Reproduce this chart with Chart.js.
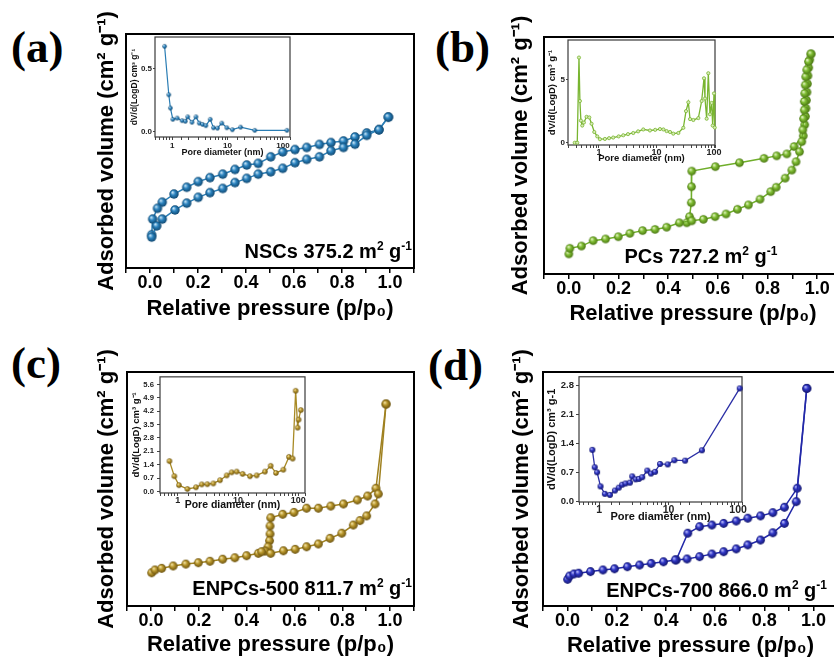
<!DOCTYPE html>
<html>
<head>
<meta charset="utf-8">
<script src="https://cdn.jsdelivr.net/npm/chart.js@4.4.1/dist/chart.umd.min.js"></script>
<style>
  html, body { margin: 0; padding: 0; width: 834px; height: 659px; overflow: hidden; background: #fff; }
  canvas { position: absolute; }
  .tag { position: absolute; font: bold 45px "Liberation Serif", "Times New Roman", serif; line-height: 45px; color: #000; white-space: nowrap; }
</style>
</head>
<body>
<div class="tag" style="left:11px;top:25px">(a)</div>
<div class="tag" style="left:435px;top:25px">(b)</div>
<div class="tag" style="left:11px;top:341px">(c)</div>
<div class="tag" style="left:428px;top:343px">(d)</div>
<script>
// ---------- N2 isotherms (relative pressure p/p0, adsorbed volume, relative units) ----------
// NSCs
const nscAdsP = [0.007,0.028,0.051,0.104,0.153,0.201,0.250,0.303,0.354,0.403,0.451,0.503,0.553,0.604,0.653,0.706,0.754,0.806,0.854,0.903,0.954,0.993];
const nscAdsV = [13.2,18.0,20.9,24.8,27.7,30.2,32.2,34.0,36.5,38.3,40.1,41.1,42.6,45.0,46.4,47.5,50.1,51.5,52.9,56.7,59.1,64.5];
const nscDesP = [0.993,0.954,0.903,0.854,0.806,0.754,0.706,0.653,0.604,0.553,0.503,0.451,0.403,0.354,0.303,0.250,0.201,0.153,0.100,0.051,0.031,0.011,0.007];
const nscDesV = [64.5,59.1,57.7,56.0,54.3,53.6,52.8,51.5,50.6,49.6,47.5,44.7,44.0,42.1,40.1,38.6,36.9,34.5,31.6,28.1,25.5,20.9,14.2];
// PCs
const pcAdsP = [0.000,0.004,0.051,0.098,0.148,0.199,0.246,0.297,0.347,0.394,0.445,0.495,0.542,0.589,0.633,0.679,0.723,0.770,0.813,0.835,0.871,0.898,0.915,0.929,0.938,0.942,0.945,0.948,0.948,0.950,0.952,0.954,0.958,0.965,0.975];
const pcAdsV = [7.8,10.1,11.0,13.2,13.9,14.8,16.2,17.3,17.8,18.7,20.5,21.3,21.9,23.0,24.1,26.0,27.8,30.1,33.2,35.0,38.7,42.0,45.4,49.5,53.6,58.4,63.0,66.5,70.0,73.3,76.7,80.1,82.9,86.3,89.4];
const pcDesP = [0.975,0.970,0.966,0.963,0.961,0.959,0.957,0.955,0.953,0.950,0.944,0.907,0.878,0.837,0.786,0.687,0.590,0.495,0.494,0.493,0.486,0.475];
const pcDesV = [89.4,87.0,83.8,80.5,77.2,73.8,70.5,67.2,63.9,60.5,56.0,51.6,48.6,47.8,46.8,45.0,43.4,41.6,35.2,28.7,23.0,20.5];
// ENPCs-500
const e500AdsP = [0.003,0.017,0.045,0.093,0.146,0.198,0.247,0.300,0.351,0.400,0.449,0.463,0.501,0.554,0.603,0.651,0.700,0.749,0.798,0.846,0.874,0.902,0.937,0.951,0.983];
const e500AdsV = [14.2,15.4,16.1,17.1,17.9,18.5,19.1,20.0,20.6,21.5,22.5,23.2,22.5,23.6,24.2,25.3,26.5,28.9,31.1,34.6,36.5,38.5,43.6,47.9,86.3];
const e500DesP = [0.983,0.941,0.906,0.863,0.805,0.752,0.700,0.651,0.598,0.551,0.501,0.498,0.498,0.496,0.490,0.478];
const e500DesV = [86.3,50.3,47.0,45.3,43.6,42.7,41.8,41.8,40.0,39.2,37.7,34.2,30.8,27.9,25.3,23.5];
// ENPCs-700
const e700AdsP = [0.000,0.008,0.026,0.045,0.093,0.144,0.191,0.243,0.293,0.340,0.390,0.438,0.486,0.537,0.587,0.635,0.686,0.733,0.785,0.835,0.882,0.930,0.973];
const e700AdsV = [11.4,12.8,13.7,14.0,14.7,15.4,15.9,16.8,17.5,18.2,18.9,19.7,20.1,21.1,22.2,23.2,24.4,26.1,28.2,31.3,35.3,44.6,93.0];
const e700DesP = [0.973,0.934,0.882,0.835,0.785,0.733,0.686,0.635,0.587,0.537,0.489,0.442];
const e700DesV = [93.0,50.3,42.2,39.9,38.5,37.5,36.3,35.3,34.6,33.9,31.1,19.7];

// ---------- pore size distributions (pore diameter nm, dV/d(logD)) ----------
const nscPoreD = [0.73,0.87,0.93,1.03,1.23,1.51,1.73,1.91,2.28,2.69,3.09,3.54,4.06,4.86,5.57,6.58,7.86,9.70,12.2,17.2,31,118];
const nscPoreV = [0.68,0.295,0.19,0.10,0.11,0.09,0.085,0.12,0.077,0.12,0.07,0.06,0.05,0.10,0.033,0.03,0.07,0.033,0.018,0.038,0.013,0.013];
const pcPoreD = [0.38,0.42,0.45,0.467,0.486,0.513,0.548,0.61,0.68,0.745,0.83,0.935,1.04,1.27,1.5,1.77,2.2,2.65,3.2,3.95,4.8,5.9,7.7,9.5,11.5,13.2,15.0,17.2,19.6,24,29.3,32.6,35.8,38.3,43.7,53.4,61,67,69.7,74.5,79.6,85,91,94.8,100,103];
const pcPoreV = [0,0,6.74,3.3,1.75,1.36,1.6,2.05,2.0,1.5,0.85,0.5,0.28,0.3,0.36,0.41,0.5,0.59,0.68,0.77,0.9,1.05,0.97,1.02,1.08,1.05,0.92,0.85,0.72,0.77,1.18,2.5,3.2,1.87,1.8,1.95,3.3,5.1,3.5,1.9,5.5,2.25,3.15,1.36,3.9,1.2];
const e500PoreD = [0.73,0.88,1.05,1.45,2.01,2.5,3.1,3.9,5.03,6.5,7.85,9.5,11.9,15.8,20.4,28,34.8,42.6,56.4,70,80.5,90.3,97.5,101,110];
const e500PoreV = [1.59,0.80,0.33,0.13,0.22,0.37,0.38,0.42,0.59,0.84,1.0,1.04,0.92,0.80,0.84,1.04,1.34,0.97,1.14,1.81,1.72,5.27,3.34,3.76,4.26];
const e700PoreD = [0.80,0.866,0.936,1.05,1.21,1.43,1.69,1.92,2.15,2.4,2.78,3.0,3.35,3.74,4.18,4.94,5.58,6.38,7.54,9.73,12.1,17.3,30.2,105.7];
const e700PoreV = [1.24,0.82,0.70,0.36,0.18,0.155,0.26,0.33,0.40,0.43,0.45,0.60,0.53,0.54,0.58,0.74,0.67,0.71,0.90,0.89,0.99,0.98,1.23,2.72];

// ---------- helpers ----------
const SANS = '"Liberation Sans", Arial, sans-serif';

function pts(xs, ys) { return xs.map((x, i) => ({ x: x, y: ys[i] })); }

function addCanvas(left, top, w, h) {
  const c = document.createElement('canvas');
  c.width = w; c.height = h;
  c.style.left = left + 'px'; c.style.top = top + 'px';
  c.style.width = w + 'px'; c.style.height = h + 'px';
  document.body.appendChild(c);
  return c;
}

// shaded ball marker
function sphere(r, light, base, dark) {
  const s = Math.ceil(r * 2 + 2);
  const c = document.createElement('canvas');
  c.width = s; c.height = s;
  const g = c.getContext('2d');
  const cx = s / 2, cy = s / 2;
  const grd = g.createRadialGradient(cx - r * 0.35, cy - r * 0.4, r * 0.05, cx, cy, r);
  grd.addColorStop(0, light);
  grd.addColorStop(0.45, base);
  grd.addColorStop(1, dark);
  g.fillStyle = grd;
  g.beginPath(); g.arc(cx, cy, r, 0, Math.PI * 2); g.fill();
  return c;
}

function framePlugin(width, color, fill) {
  return {
    id: 'frame',
    beforeDraw(chart) {
      if (!fill) return;
      const { ctx, chartArea: a } = chart;
      ctx.save(); ctx.fillStyle = fill;
      ctx.fillRect(a.left, a.top + 1, a.right - a.left, a.bottom - a.top - 1);
      ctx.restore();
    },
    beforeDatasetsDraw(chart) {
      const { ctx, chartArea: a } = chart;
      ctx.save(); ctx.strokeStyle = color; ctx.lineWidth = width;
      ctx.strokeRect(a.left, a.top, a.right - a.left, a.bottom - a.top);
      ctx.restore();
    }
  };
}

// surface-area label with superscripts
function notePlugin(n) {
  return {
    id: 'note',
    afterDatasetsDraw(chart) {
      const { ctx, chartArea: a } = chart;
      const big = 'bold 20px ' + SANS, small = 'bold 12px ' + SANS;
      ctx.save();
      let total = 0;
      n.parts.forEach(pt => { ctx.font = pt[1] ? small : big; total += ctx.measureText(pt[0]).width; });
      let x = a.left + n.dx - (n.align === 'center' ? total / 2 : total);
      const base = a.bottom - n.dy;
      ctx.fillStyle = '#000'; ctx.textBaseline = 'alphabetic'; ctx.textAlign = 'left';
      n.parts.forEach(pt => {
        ctx.font = pt[1] ? small : big;
        ctx.fillText(pt[0], x, pt[1] ? base - 8 : base);
        x += ctx.measureText(pt[0]).width;
      });
      ctx.restore();
    }
  };
}

function mainChart(p) {
  const ml = 50, mt = 45, mr = 6, mb = 58;
  const W = p.R - p.L + ml + mr, H = p.B - p.T + mt + mb;
  const cv = addCanvas(p.L - ml, p.T - mt, W, H);
  const titleFont = { family: SANS, size: 22, weight: 'bold', lineHeight: 1 };
  const ds = (xs, ys) => ({
    data: pts(xs, ys), showLine: true, borderColor: p.line, borderWidth: 1.5,
    pointStyle: p.ball, pointRadius: 4.5, clip: false
  });
  return new Chart(cv, {
    type: 'scatter',
    data: { datasets: [ds(p.adsP, p.adsV), ds(p.desP, p.desV)] },
    options: {
      responsive: false, animation: false, events: [],
      layout: { padding: { left: 0, top: mt, right: mr, bottom: 0 }, autoPadding: false },
      plugins: { legend: { display: false }, tooltip: { enabled: false } },
      scales: {
        x: {
          type: 'linear', min: -0.1, max: 1.1,
          afterFit: s => { s.height = mb; },
          ticks: {
            stepSize: 0.1, autoSkip: false, maxRotation: 0, includeBounds: false, padding: 1.5,
            font: { family: SANS, size: 18, weight: 'bold', lineHeight: 1 }, color: '#000',
            callback: v => { const k = Math.round(v * 10); return (k >= 0 && k <= 10 && k % 2 === 0) ? (k / 10).toFixed(1) : ''; }
          },
          grid: { drawOnChartArea: false, drawTicks: true, tickLength: 5, color: '#000', lineWidth: 1.5 },
          border: { display: false },
          title: { display: true, text: 'Relative pressure (p/p\u2080)', color: '#000', font: titleFont,
                   padding: { top: 0, bottom: mb - p.xTitleGap - 11 } }
        },
        y: {
          type: 'linear', min: p.ymin, max: p.ymax,
          afterFit: s => { s.width = ml; },
          ticks: { display: false }, grid: { display: false }, border: { display: false },
          title: { display: true, text: 'Adsorbed volume (cm\u00b2 g\u207b\u00b9)', color: '#000', font: titleFont,
                   padding: { top: ml - p.yTitleGap - 11, bottom: 0 } }
        }
      }
    },
    plugins: [framePlugin(2, '#000', null), notePlugin(p.note)]
  });
}

function insetChart(p) {
  const ml = 38, mt = 2, mr = 8, mb = 24;
  const W = p.R - p.L + ml + mr, H = p.B - p.T + mt + mb;
  const cv = addCanvas(p.L - ml, p.T - mt, W, H);
  return new Chart(cv, {
    type: 'scatter',
    data: { datasets: [{
      data: pts(p.xs, p.ys), showLine: true, borderColor: p.line, borderWidth: p.lw,
      pointStyle: p.ball || 'circle', pointRadius: p.pr || 2,
      pointBackgroundColor: p.pbg || p.line, pointBorderColor: p.line, pointBorderWidth: 0.8, clip: false
    }] },
    options: {
      responsive: false, animation: false, events: [],
      layout: { padding: { left: 0, top: mt, right: mr, bottom: 0 }, autoPadding: false },
      plugins: { legend: { display: false }, tooltip: { enabled: false } },
      scales: {
        x: {
          type: 'logarithmic', min: p.xmin, max: p.xmax,
          afterFit: s => { s.height = mb; },
          ticks: {
            autoSkip: false, maxRotation: 0, includeBounds: false, padding: p.xPad,
            font: { family: SANS, size: p.xTick, weight: 'bold', lineHeight: 1 }, color: '#222',
            callback: v => { const l = Math.log10(v); return Math.abs(l - Math.round(l)) < 1e-6 ? String(Math.round(v)) : ''; }
          },
          grid: { drawOnChartArea: false, drawTicks: true, tickLength: 3, color: '#444', lineWidth: 1 },
          border: { display: false },
          title: { display: true, text: 'Pore diameter (nm)', color: '#111',
                   font: { family: SANS, size: p.xTitle, weight: 'bold', lineHeight: 1 },
                   padding: { top: 0, bottom: mb - p.xTitleGap - p.xTitle / 2 } }
        },
        y: {
          type: 'linear', min: p.ymin, max: p.ymax,
          afterFit: s => { s.width = ml; },
          ticks: {
            stepSize: p.step, includeBounds: false, padding: p.yPad,
            font: { family: SANS, size: p.yTick, weight: 'bold', lineHeight: 1 }, color: '#222',
            callback: v => v.toFixed(p.dec)
          },
          grid: { drawOnChartArea: false, drawTicks: true, tickLength: p.yTl, color: '#444', lineWidth: 1 },
          border: { display: false },
          title: { display: true, text: p.yText, color: '#111',
                   font: { family: SANS, size: p.yTitle, weight: 'bold', lineHeight: 1 },
                   padding: { top: ml - p.yTitleGap - p.yTitle / 2, bottom: 0 } }
        }
      }
    },
    plugins: [framePlugin(1.2, '#3a3a3a', '#fff')]
  });
}

// ---------- markers ----------
const ballA = sphere(4.7, '#cfeafa', '#2b83bf', '#0f476f');
const ballB = sphere(4.3, '#eaf8cc', '#7fbd33', '#4a7612');
const ballC = sphere(4.4, '#f8e9b0', '#b9972c', '#6a510e');
const ballD = sphere(4.4, '#c4c6ff', '#3037c6', '#13166b');
const ballAi = sphere(2.2, '#cfeafa', '#2b83bf', '#0f476f');
const ballCi = sphere(2.7, '#f8e9b0', '#b9972c', '#6a510e');
const ballDi = sphere(3.0, '#c4c6ff', '#3037c6', '#13166b');

// ---------- isotherm panels ----------
mainChart({ L: 126, T: 34, R: 414, B: 268, ymin: 0, ymax: 100, adsP: nscAdsP, adsV: nscAdsV, desP: nscDesP, desV: nscDesV,
  ball: ballA, line: '#2d7fb6', xTitleGap: 41, yTitleGap: 19,
  note: { parts: [['NSCs 375.2 m', 0], ['2', 1], [' g', 0], ['-1', 1]], align: 'right', dx: 286, dy: 10 } });
mainChart({ L: 544, T: 37, R: 842, B: 274, ymin: -0.4, ymax: 96.3, adsP: pcAdsP, adsV: pcAdsV, desP: pcDesP, desV: pcDesV,
  ball: ballB, line: '#6fae2a', xTitleGap: 40, yTitleGap: 23,
  note: { parts: [['PCs 727.2 m', 0], ['2', 1], [' g', 0], ['-1', 1]], align: 'center', dx: 157, dy: 11 } });
mainChart({ L: 127, T: 372, R: 414, B: 606, ymin: 0, ymax: 100, adsP: e500AdsP, adsV: e500AdsV, desP: e500DesP, desV: e500DesV,
  ball: ballC, line: '#9f8120', xTitleGap: 39, yTitleGap: 20,
  note: { parts: [['ENPCs-500 811.7 m', 0], ['2', 1], [' g', 0], ['-1', 1]], align: 'right', dx: 285, dy: 11 } });
mainChart({ L: 543, T: 372, R: 838, B: 606, ymin: 0, ymax: 100, adsP: e700AdsP, adsV: e700AdsV, desP: e700DesP, desV: e700DesV,
  ball: ballD, line: '#2228a8', xTitleGap: 40, yTitleGap: 21,
  note: { parts: [['ENPCs-700 866.0 m', 0], ['2', 1], [' g', 0], ['-1', 1]], align: 'right', dx: 284, dy: 9 } });

// ---------- pore size insets ----------
const psdTitle = 'dV/d(LogD) cm\u00b3 g\u207b\u00b9';
insetChart({ L: 155, T: 34, R: 290, B: 137, xmin: 0.49, xmax: 134, ymin: -0.04, ymax: 0.754, step: 0.5, dec: 1,
  xs: nscPoreD, ys: nscPoreV, line: '#2a7db4', lw: 1.2, ball: ballAi,
  xTick: 8, xPad: 2, xTitle: 9, xTitleGap: 16, yTick: 8, yPad: 1, yTl: 2, yTitle: 8.5, yTitleGap: 20, yText: psdTitle });
insetChart({ L: 568, T: 37, R: 715, B: 145, xmin: 0.29, xmax: 104, ymin: -0.18, ymax: 8.13, step: 5, dec: 0,
  xs: pcPoreD, ys: pcPoreV, line: '#78b530', lw: 1.3, pr: 1.6, pbg: '#d8ecb8',
  xTick: 9, xPad: 0.5, xTitle: 9.5, xTitleGap: 13, yTick: 8, yPad: 1, yTl: 2, yTitle: 9.5, yTitleGap: 16, yText: psdTitle });
insetChart({ L: 160, T: 372, R: 305, B: 493, xmin: 0.509, xmax: 129, ymin: -0.08, ymax: 6.0, step: 0.7, dec: 1,
  xs: e500PoreD, ys: e500PoreV, line: '#a88a25', lw: 1.3, ball: ballCi,
  xTick: 9, xPad: 0.5, xTitle: 10.5, xTitleGap: 12, yTick: 7.7, yPad: 3, yTl: 3, yTitle: 9.5, yTitleGap: 24, yText: psdTitle });
insetChart({ L: 579, T: 372, R: 742, B: 502, xmin: 0.514, xmax: 114, ymin: -0.016, ymax: 3.0, step: 0.7, dec: 1,
  xs: e700PoreD, ys: e700PoreV, line: '#2b2fa6', lw: 1.3, ball: ballDi,
  xTick: 10.5, xPad: 0, xTitle: 11, xTitleGap: 15, yTick: 9.5, yPad: 2, yTl: 3, yTitle: 11, yTitleGap: 27, yText: 'dV/d(LogD) cm\u00b3 g-1' });
</script>
</body>
</html>
